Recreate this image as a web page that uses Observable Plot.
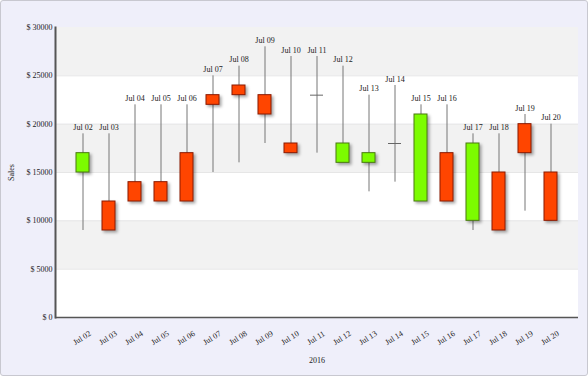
<!DOCTYPE html>
<html>
<head>
<meta charset="utf-8">
<script src="https://cdn.jsdelivr.net/npm/d3@7"></script>
<script src="https://cdn.jsdelivr.net/npm/@observablehq/plot@0.6"></script>
<style>
  html, body { margin: 0; padding: 0; background: #fff; }
  #wrap { position: absolute; left: 0; top: 0; width: 586px; height: 374px; border: 1px solid #c8c8d0; border-radius: 3px; background: #efeffa; overflow: hidden; }
  #wrap svg { display: block; }
</style>
</head>
<body>
<div id="wrap"></div>
<script>
const dates = ["Jul 02","Jul 03","Jul 04","Jul 05","Jul 06","Jul 07","Jul 08","Jul 09","Jul 10","Jul 11","Jul 12","Jul 13","Jul 14","Jul 15","Jul 16","Jul 17","Jul 18","Jul 19","Jul 20"];
const open  = [15000,12000,14000,14000,17000,23000,24000,23000,18000,23000,16000,16000,18000,12000,17000,10000,15000,20000,15000];
const close = [17000, 9000,12000,12000,12000,22000,23000,21000,17000,23000,18000,17000,18000,21000,12000,18000, 9000,17000,10000];
const high  = [19000,19000,22000,22000,22000,25000,26000,28000,27000,27000,26000,23000,24000,22000,22000,19000,19000,21000,20000];
const low   = [ 9000, 9000,12000,12000,12000,15000,16000,18000,17000,17000,16000,13000,14000,12000,12000,9000, 9000,11000,10000];
const yTicks = [0,5000,10000,15000,20000,25000,30000];
const xTitle = "2016";
const yTitle = "Sales";

const data = dates.map((d,i) => ({date: d, open: open[i], close: close[i], high: high[i], low: low[i]}));
const bodies = data.filter(d => d.open !== d.close);
const dojis = data.filter(d => d.open === d.close);
const bands = yTicks.slice(0,-1).map((t,i) => ({y1: t, y2: yTicks[i+1], shade: i % 2 === 1}));

const font = "'Liberation Serif', 'Times New Roman', serif";

const chart = Plot.plot({
  width: 586, height: 374,
  marginLeft: 54, marginRight: 9, marginTop: 26, marginBottom: 58,
  style: {fontFamily: font, fontSize: "8px", color: "#222", background: "transparent", overflow: "visible"},
  x: {type: "band", domain: dates, paddingInner: 0.5, paddingOuter: 0.75},
  y: {domain: [0, 30000]},
  marks: [
    Plot.rect(bands, {y1: "y1", y2: "y2", fill: d => d.shade ? "#f2f2f2" : "#ffffff"}),
    Plot.ruleY(yTicks.slice(1,-1), {stroke: "#e6e6e6", strokeWidth: 1}),
    Plot.axisY({ticks: yTicks, tickSize: 0, tickPadding: 3, tickFormat: d => "$ " + d, fontSize: 8,
      label: yTitle, labelAnchor: "center", labelArrow: "none", labelOffset: 47}),
    Plot.axisX({tickSize: 0, tickRotate: -32, textAnchor: "middle", dx: -1, dy: 8, fontSize: 8,
      label: xTitle, labelAnchor: "center", labelArrow: "none", labelOffset: 45}),
    Plot.ruleX(data, {x: "date", y1: "low", y2: "high", stroke: "#777", strokeWidth: 1}),
    Plot.barY(bodies, {x: "date", y1: "open", y2: "close",
      fill: d => d.close > d.open ? "#7cfc00" : "#ff4500",
      stroke: d => d.close > d.open ? "#4a7a10" : "#8b1a00", strokeWidth: 1}),
    Plot.tickY(dojis, {x: "date", y: "open", stroke: "#666", strokeWidth: 1}),
    Plot.text(data, {x: "date", y: "high", text: "date", dy: -4, lineAnchor: "bottom", fontSize: 8, fill: "#222"}),
    Plot.ruleY([0], {stroke: "#555", strokeWidth: 1.5}),
    Plot.frame({anchor: "left", stroke: "#555", strokeWidth: 2})
  ]
});

document.getElementById("wrap").appendChild(chart);
d3.select(chart).selectAll('g[aria-label="bar"]').style("filter", "drop-shadow(2px 2px 1.5px rgba(0,0,0,0.35))");
</script>
</body>
</html>
